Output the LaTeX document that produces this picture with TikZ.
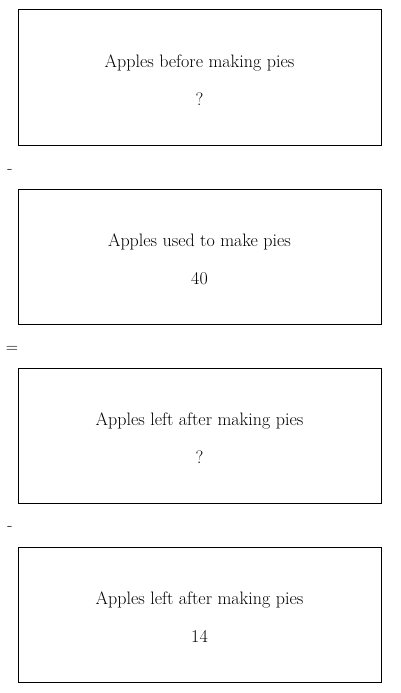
\documentclass[tikz,border=0pt]{standalone}
\usepackage{tikz}

\tikzset{every picture/.style={line width=1pt}}
\tikzset{qtybox/.style={draw,rectangle,minimum width=363pt,minimum height=135pt,inner sep=0pt}}
\tikzset{qtytext/.style={align=center,inner sep=0pt,font=\fontsize{18}{38}\selectfont}}
\tikzset{opsign/.style={inner sep=0pt,font=\fontsize{17}{18}\selectfont}}

\begin{document}
\begin{tikzpicture}[x=1pt,y=1pt,yscale=-1]
\useasboundingbox (0,0) rectangle (400,693);

%Shape: Rectangle [before]
\node [qtybox] (before) at (199.5,77.5) {};
\node [qtytext] (beforeText) at ([yshift=2.5pt]before.center) {Apples before making pies\\?};
%Text [minus one]
\node [opsign] (minusA) at (10,171) {-};
%Shape: Rectangle [used]
\node [qtybox] (used) at (199.5,256.5) {};
\node [qtytext] (usedText) at ([yshift=2.5pt]used.center) {Apples used to make pies\\40};
%Text [equals]
\node [opsign] (equals) at (12,349) {=};
%Shape: Rectangle [left]
\node [qtybox] (leftA) at (199.5,435.5) {};
\node [qtytext] (leftAText) at ([yshift=2.5pt]leftA.center) {Apples left after making pies\\?};
%Text [minus two]
\node [opsign] (minusB) at (10,528) {-};
%Shape: Rectangle [left again]
\node [qtybox] (leftB) at (199.5,614.5) {};
\node [qtytext] (leftBText) at ([yshift=2.5pt]leftB.center) {Apples left after making pies\\14};

\end{tikzpicture}
\end{document}
